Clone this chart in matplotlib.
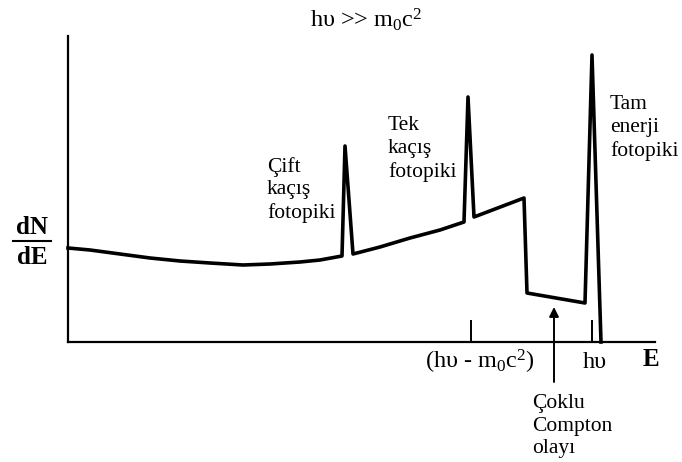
import matplotlib
matplotlib.use("Agg")
import matplotlib.pyplot as plt
from matplotlib.lines import Line2D

plt.rcParams['font.family'] = ['Liberation Serif', 'DejaVu Serif']
plt.rcParams['mathtext.fontset'] = 'custom'
plt.rcParams['mathtext.rm'] = 'Liberation Serif'
plt.rcParams['mathtext.it'] = 'Liberation Serif'
plt.rcParams['mathtext.bf'] = 'Liberation Serif:bold'
plt.rcParams['mathtext.default'] = 'regular'

# Schematic spectrum (arbitrary units)
energy = [0, 22, 52, 82, 112, 142, 175, 202, 232, 252, 274, 277, 285,
          312, 342, 372, 396, 400, 406, 456, 459, 517, 524, 533]
dn_de = [94, 92, 88, 84, 81, 79, 77, 78, 80, 82, 86, 196, 88,
         95, 104, 112, 120, 245, 125, 144, 49, 39, 287, 0]

tick_positions = [403, 524]
tick_labels = [r'(hυ - m$_0$c$^2$)', 'hυ']
title = r'hυ >> m$_0$c$^2$'
peak_labels = ['Çift\nkaçış\nfotopiki', 'Tek\nkaçış\nfotopiki', 'Tam\nenerji\nfotopiki']
compton_label = 'Çoklu\nCompton\nolayı'

W, H = 682, 462
fig = plt.figure(figsize=(W / 100, H / 100), dpi=100)
ax = fig.add_axes([68 / W, (H - 342) / H, (655 - 68) / W, (342 - 36) / H])
ax.set_xlim(0, 587)
ax.set_ylim(0, 306)

ax.plot(energy, dn_de, color='black', lw=2.6, solid_joinstyle='round', clip_on=False)

for s in ['top', 'right']:
    ax.spines[s].set_visible(False)
for s in ['left', 'bottom']:
    ax.spines[s].set_linewidth(1.6)
ax.set_yticks([])
ax.set_xticks(tick_positions)
ax.set_xticklabels([])
ax.tick_params(axis='x', direction='in', length=16, width=1.4)

fs = 15.5
ls = 1.27
ax.text(412, -20, tick_labels[0], fontsize=17.5, ha='center', va='center')
ax.text(527, -20, tick_labels[1], fontsize=17.5, ha='center', va='center')
ax.text(583, -18, 'E', fontsize=18, fontweight='bold', ha='center', va='center')

fig.text(366 / W, 1 - 20 / H, title, fontsize=17.5, ha='center', va='center')

ax.text(199, 152, peak_labels[0], fontsize=fs, ha='left', va='center', linespacing=ls)
ax.text(320, 193, peak_labels[1], fontsize=fs, ha='left', va='center', linespacing=ls)
ax.text(542, 214, peak_labels[2], fontsize=fs, ha='left', va='center', linespacing=ls)

ax.annotate('', xy=(486, 35), xytext=(486, -40), annotation_clip=False,
            arrowprops=dict(arrowstyle='-|>', color='black', lw=1.4,
                            mutation_scale=14, shrinkA=0, shrinkB=0))
ax.text(464, -84, compton_label, fontsize=fs, ha='left', va='center', linespacing=ls)

# dN/dE label
fig.text(32 / W, 1 - 227 / H, 'dN', fontsize=18, fontweight='bold', ha='center', va='center')
fig.text(32 / W, 1 - 258 / H, 'dE', fontsize=18, fontweight='bold', ha='center', va='center')
fig.add_artist(Line2D([13 / W, 51 / W], [1 - 241 / H, 1 - 241 / H], color='black', lw=1.5,
                      transform=fig.transFigure))

fig.savefig('out.png', dpi=100)
